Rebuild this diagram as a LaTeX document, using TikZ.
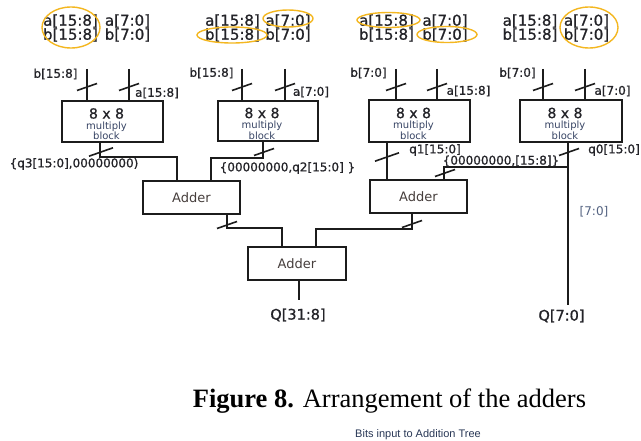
\documentclass[tikz,border=0pt]{standalone}
\usepackage{fontspec}
\setmainfont{Liberation Serif}
\newfontfamily\labfont{DejaVu Sans}[FakeBold=0.9]
\newfontfamily\lightlab{DejaVu Sans}
\newfontfamily\notefont{Liberation Sans}
\usetikzlibrary{calc}

\definecolor{ring}{RGB}{244,183,32}
\definecolor{wire}{RGB}{28,28,28}
\definecolor{labink}{RGB}{35,35,40}
\definecolor{blockink}{RGB}{55,68,100}
\definecolor{adderink}{RGB}{70,62,60}
\definecolor{rangeink}{RGB}{85,100,130}
\definecolor{noteink}{RGB}{40,55,85}

\newcommand{\multext}{%
  {\color{labink}\labfont\fontsize{14}{10.5}\selectfont 8 x 8}\\
  multiply\\
  block}

\tikzset{
  mulblk/.style={draw=wire, line width=2pt, inner sep=0pt,
    minimum width=101pt, minimum height=41pt},
  addblk/.style={draw=wire, line width=2pt, inner sep=0pt,
    minimum width=97pt, minimum height=33pt, text=adderink,
    font=\lightlab\fontsize{13}{15}\selectfont},
  wireline/.style={draw=wire, line width=2pt},
  ringline/.style={draw=ring, line width=1.4pt},
  toplab/.style={inner sep=0pt, text=labink, font=\labfont\fontsize{15}{18}\selectfont},
  pinlab/.style={inner sep=0pt, text=labink, font=\labfont\fontsize{12}{14}\selectfont},
  qlab/.style={inner sep=0pt, text=labink, font=\labfont\fontsize{14.5}{17}\selectfont},
  multxt/.style={inner sep=0pt, anchor=north, align=center, text=blockink,
    font=\lightlab\fontsize{10}{10.5}\selectfont},
  bus/.pic={\draw[draw=wire, line width=1.6pt] (-10,3.5) -- (10,-3.5);},
}

\begin{document}
\begin{tikzpicture}[x=1pt, y=-1pt]
  \fill[white] (0,0) rectangle (641,441);
  \useasboundingbox (0,0) rectangle (641,441);

  % operand pairs selected for each multiplier
  \foreach \g/\xa/\xb in {1/70.5/127.5, 2/232.5/288, 3/386.5/445, 4/530/586.5} {
    \node[toplab] (ah\g) at (\xa,21) {a[15:8]};
    \node[toplab] (al\g) at (\xb,21) {a[7:0]};
    \node[toplab] (bh\g) at (\xa,35) {b[15:8]};
    \node[toplab] (bl\g) at (\xb,35) {b[7:0]};
  }
  \draw[ringline] (71,27.5) ellipse [x radius=29, y radius=20.5];
  \draw[ringline] (288,18.5) ellipse [x radius=25, y radius=8.5];
  \draw[ringline] (232,35) ellipse [x radius=35, y radius=8];
  \draw[ringline] (388.5,20) ellipse [x radius=31.5, y radius=7.5];
  \draw[ringline] (447,34.5) ellipse [x radius=30, y radius=8];
  \draw[ringline] (589,27.5) ellipse [x radius=29, y radius=20.5];

  % 8 x 8 multiply blocks
  \node[mulblk] (m1) at (112.5,121.5) {};
  \node[mulblk, minimum width=100pt, minimum height=40pt] (m2) at (268,121) {};
  \node[mulblk, minimum height=42pt] (m3) at (419.5,121) {};
  \node[mulblk, minimum width=102pt, minimum height=42pt] (m4) at (571,121) {};
  \foreach \b in {m1,m2,m3,m4} {
    \node[multxt] (\b-txt) at ($(\b.center)+(-6,-13.5)$) {\multext};
  }

  % adders
  \node[addblk] (add1) at (191.5,198) {Adder};
  \node[addblk, minimum height=33pt] (add2) at (418.5,196.5) {Adder};
  \node[addblk, minimum width=98pt] (add3) at (297,263.5) {Adder};

  % multiplier inputs
  \foreach \b/\l/\r in {m1/87/129, m2/242/285, m3/396/437, m4/543/585} {
    \coordinate (\b-inl) at (\l,69);
    \coordinate (\b-inr) at (\r,69);
    \draw[wireline] (\b-inl) -- (\b-inl |- \b.north);
    \draw[wireline] (\b-inr) -- (\b-inr |- \b.north);
    \pic at (\l,87) {bus};
    \pic at (\r,87) {bus};
  }
  \node[pinlab] (m1-bl) at (55.5,74) {b[15:8]};
  \node[pinlab] (m1-al) at (157,93) {a[15:8]};
  \node[pinlab] (m2-bl) at (211.5,73) {b[15:8]};
  \node[pinlab] (m2-al) at (311,92) {a[7:0]};
  \node[pinlab] (m3-bl) at (368.5,73) {b[7:0]};
  \node[pinlab] (m3-al) at (468.5,91) {a[15:8]};
  \node[pinlab] (m4-bl) at (517.5,73) {b[7:0]};
  \node[pinlab] (m4-al) at (612.5,91) {a[7:0]};

  % partial products into the first adder stage
  \coordinate (m1-o) at (100,157);
  \draw[wireline] (m1-o |- m1.south) -- (m1-o) -| ($(add1.north west)+(35,0)$);
  \pic[scale=1.2] at (101,152) {bus};
  \node[pinlab] (q3lab) at (74,164) {\{q3[15:0],00000000)};

  \coordinate (m2-o) at (263,158);
  \draw[wireline] (m2-o |- m2.south) -- (m2-o) -| ($(add1.north west)+(69,0)$);
  \pic at (264,152) {bus};
  \node[pinlab] (q2lab) at (287.5,168) {\{00000000,q2[15:0] \}};

  \coordinate (m3-o) at (387,150);
  \draw[wireline] (m3-o |- m3.south) -- (m3-o |- add2.north);
  \pic[scale=1.2] at (387,157) {bus};
  \node[pinlab] (q1lab) at (435,150) {q1[15:0]};

  \coordinate (q0end) at (568,305);
  \coordinate (br) at (568,167);
  \draw[wireline] (q0end |- m4.south) -- (q0end);
  \pic at (569,152) {bus};
  \node[pinlab] (q0lab) at (614,150) {q0[15:0]};
  \draw[wireline] (br) -| ($(add2.north west)+(75,0)$);
  \pic at (445,173) {bus};
  \node[pinlab] (q0hi) at (501,161) {\{00000000,[15:8]\}};
  \node[pinlab, text=rangeink, font=\lightlab\fontsize{12}{14}\selectfont] (q0lo) at (594,212) {[7:0]};

  % second adder stage
  \coordinate (a1-o) at (227,228);
  \draw[wireline] (a1-o |- add1.south) -- (a1-o) -| ($(add3.north west)+(35,0)$);
  \pic at (227,225) {bus};
  \coordinate (a2-o) at (412,229);
  \draw[wireline] (a2-o |- add2.south) -- (a2-o) -| ($(add3.north west)+(69,0)$);
  \pic at (412,224) {bus};

  \coordinate (a3-end) at (299,300);
  \draw[wireline] (a3-end |- add3.south) -- (a3-end);
  \node[qlab] (Qhi) at (298,315) {Q[31:8]};
  \node[qlab] (Qlo) at (561.5,316) {Q[7:0]};

  % caption
  \node[inner sep=0pt, font=\fontsize{26.5}{30}\selectfont] (cap) at (389.5,401)
    {\textbf{Figure 8.} Arrangement of the adders};
  \node[inner sep=0pt, text=noteink, font=\notefont\fontsize{11}{13}\selectfont] (note) at (418,435)
    {Bits input to Addition Tree};
\end{tikzpicture}
\end{document}
